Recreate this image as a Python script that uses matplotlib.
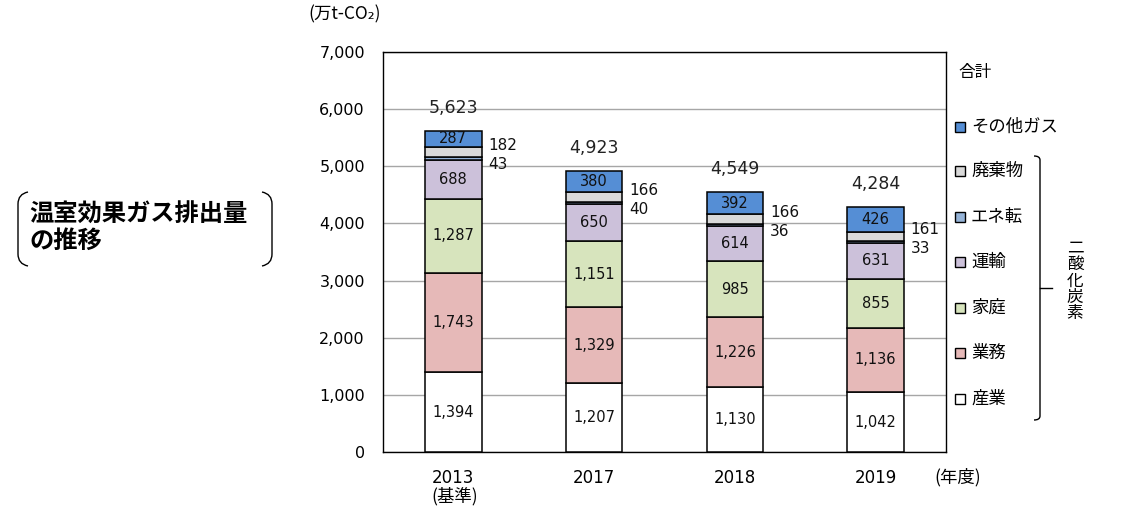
import matplotlib
matplotlib.use('Agg')
import matplotlib.pyplot as plt
from matplotlib.patches import Rectangle, PathPatch
from matplotlib.path import Path
from matplotlib.lines import Line2D

plt.rcParams['font.family'] = ['DejaVu Sans', 'Noto Sans CJK JP']

# ---- data ----
years = ['2013', '2017', '2018', '2019']
sangyo = [1394, 1207, 1130, 1042]      # 産業
gyomu = [1743, 1329, 1226, 1136]       # 業務
katei = [1287, 1151, 985, 855]         # 家庭
unyu = [688, 650, 614, 631]            # 運輸
eneten = [43, 40, 36, 33]              # エネ転
haikibutsu = [182, 166, 166, 161]      # 廃棄物
sonota = [287, 380, 392, 426]          # その他ガス
totals = [5623, 4923, 4549, 4284]
yticks = [0, 1000, 2000, 3000, 4000, 5000, 6000, 7000]

series = [
    ('産業', sangyo, '#FFFFFF'),
    ('業務', gyomu, '#E6B9B8'),
    ('家庭', katei, '#D7E4BD'),
    ('運輸', unyu, '#CCC1DA'),
    ('エネ転', eneten, '#95B3D7'),
    ('廃棄物', haikibutsu, '#D9D9D9'),
    ('その他ガス', sonota, '#558ED5'),
]

W, H = 1125, 512
fig = plt.figure(figsize=(W / 100, H / 100), dpi=100)
ax = fig.add_axes([383 / W, 1 - 452 / H, (946 - 383) / W, 400 / H])

x = list(range(len(years)))
bottom = [0] * len(years)
tops = {}
for name, vals, col in series:
    ax.bar(x, vals, 0.4, bottom=bottom, color=col, edgecolor='black',
           linewidth=1.1, zorder=3)
    for i, v in enumerate(vals):
        if name not in ('エネ転', '廃棄物'):
            ax.text(i, bottom[i] + v / 2, f'{v:,}', ha='center', va='center',
                    fontsize=10.5, color='#111111', zorder=4)
    bottom = [b + v for b, v in zip(bottom, vals)]
    tops[name] = list(bottom)

# side labels for small segments
for i in x:
    t = tops['廃棄物'][i]
    ax.text(i + 0.25, t + 30, f'{haikibutsu[i]:,}', ha='left', va='center',
            fontsize=11, color='#111111', zorder=4)
    ax.text(i + 0.25, t - 300, f'{eneten[i]:,}', ha='left', va='center',
            fontsize=11, color='#111111', zorder=4)

# totals
for i, tv in enumerate(totals):
    ax.text(i, tops['その他ガス'][i] + 400, f'{tv:,}', ha='center', va='center',
            fontsize=12.5, color='#222222', zorder=4)

ax.set_xlim(-0.5, 3.5)
ax.set_ylim(0, 7000)
ax.set_yticks(yticks)
ax.set_yticklabels([f'{v:,}' for v in yticks], fontsize=11.5)
ax.set_xticks(x)
ax.set_xticklabels(years, fontsize=12)
ax.tick_params(axis='both', length=0)
ax.tick_params(axis='y', pad=13)
ax.tick_params(axis='x', pad=12)
ax.yaxis.grid(True, color='#A6A6A6', linewidth=1.0, zorder=0)
ax.set_axisbelow(True)
for s in ax.spines.values():
    s.set_color('black')
    s.set_linewidth(1.0)

# ---- overlay in pixel coords ----
ov = fig.add_axes([0, 0, 1, 1], zorder=5)
ov.set_xlim(0, W)
ov.set_ylim(H, 0)
ov.axis('off')
ov.patch.set_alpha(0)

jp = ['Noto Sans CJK JP', 'DejaVu Sans']

ov.text(345, 14, '(万t-CO₂)', ha='center', va='center', fontsize=12.5, family=jp)
ov.text(455, 496, '(基準)', ha='center', va='center', fontsize=12.5, family=jp)
ov.text(958, 477, '(年度)', ha='center', va='center', fontsize=12.5, family=jp)

# legend
ov.text(958, 72, '合計', ha='left', va='center', fontsize=12, family=jp)
leg_y = [127, 171, 217, 262, 308, 353, 399]
for (name, vals, col), yy in zip(series[::-1], leg_y):
    ov.add_patch(Rectangle((955, yy - 5), 10, 10, facecolor=col,
                           edgecolor='black', linewidth=1.0))
    ov.text(971, yy, name, ha='left', va='center', fontsize=12.5, family=jp)

# bracket for CO2
bp = Path([(1034, 156), (1040, 156), (1040, 160), (1040, 416),
           (1040, 420), (1034, 420)],
          [Path.MOVETO, Path.CURVE3, Path.CURVE3, Path.LINETO,
           Path.CURVE3, Path.CURVE3])
ov.add_patch(PathPatch(bp, facecolor='none', edgecolor='black', linewidth=1.0))
ov.add_line(Line2D([1040, 1052], [288, 288], color='black', linewidth=1.0))
ov.text(1075, 281, '二\n酸\n化\n炭\n素', ha='center', va='center',
        fontsize=12, family=jp, linespacing=0.95)

# title with brackets
ov.text(29, 228, '温室効果ガス排出量\nの推移', ha='left', va='center',
        fontsize=17.5, fontweight='bold', family=jp, linespacing=1.12)
lp = Path([(28, 192), (18, 194), (18, 204), (18, 254), (18, 264), (28, 266)],
          [Path.MOVETO, Path.CURVE3, Path.CURVE3, Path.LINETO,
           Path.CURVE3, Path.CURVE3])
rp = Path([(262, 192), (272, 194), (272, 204), (272, 254), (272, 264), (262, 266)],
          [Path.MOVETO, Path.CURVE3, Path.CURVE3, Path.LINETO,
           Path.CURVE3, Path.CURVE3])
for p in (lp, rp):
    ov.add_patch(PathPatch(p, facecolor='none', edgecolor='black', linewidth=1.0))

fig.savefig('out.png', dpi=100)
